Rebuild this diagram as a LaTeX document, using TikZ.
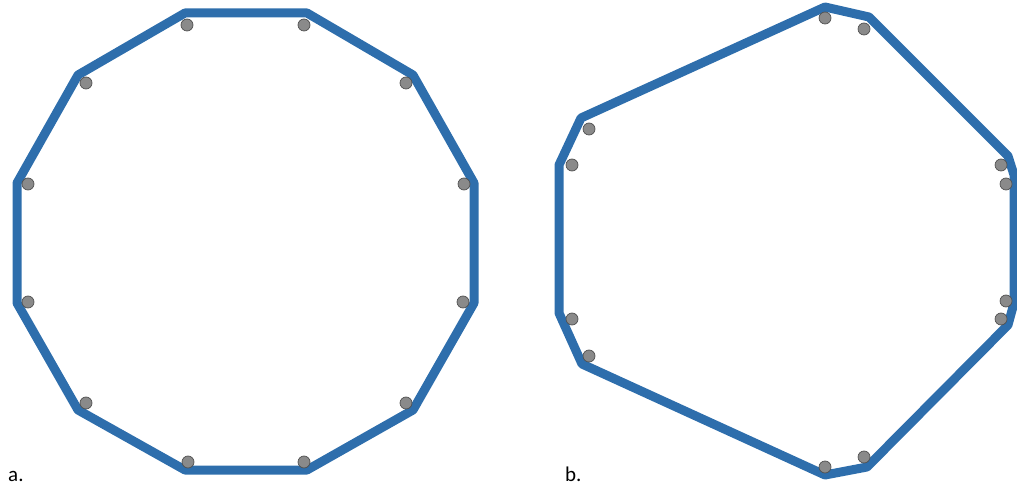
\documentclass[tikz,border=0pt]{standalone}
\usepackage{fontspec}
\setmainfont{Carlito}
\definecolor{hoop}{RGB}{46,110,172}
\definecolor{barfill}{RGB}{138,138,138}
\definecolor{barline}{RGB}{80,80,80}
\tikzset{
  tie/.style={draw=hoop, line width=9pt, line join=round},
  bar/.style={fill=barfill, draw=barline, line width=0.7pt},
  lbl/.style={anchor=base west, inner sep=0pt, font=\fontsize{21}{24}\selectfont}
}
\begin{document}
\begin{tikzpicture}[x=1pt,y=-1pt]
\useasboundingbox (0,0) rectangle (1017,486);
% a. regular twelve-sided tie
\draw[tie] (185,13) -- (307,13) -- (413,75) -- (474,183) -- (474,303) -- (413,410)
  -- (307,470) -- (185,470) -- (78,410) -- (17,303) -- (17,183) -- (78,75) -- cycle;
\foreach \p in {(187,25),(304,25),(406,83),(464,184),(463,302),(406,403),
  (304,462),(188,462),(86,403),(28,302),(28,184),(86,83)}
  \fill[bar] \p circle (6);
% b. elongated tie
\draw[tie] (825,7) -- (869,17) -- (1008,156) -- (1014,175) -- (1014,303) -- (1008,325)
  -- (867,467) -- (825,475) -- (582,364) -- (559,313) -- (559,165) -- (581,118) -- cycle;
\foreach \p in {(825,18),(864,29),(1001,165),(1006,184),(1006,301),(1001,319),
  (864,457),(825,467),(589,356),(572,319),(572,165),(589,129)}
  \fill[bar] \p circle (6);
\node[lbl] (la) at (8,481) {a.};
\node[lbl] (lb) at (565,481) {b.};
\end{tikzpicture}
\end{document}
